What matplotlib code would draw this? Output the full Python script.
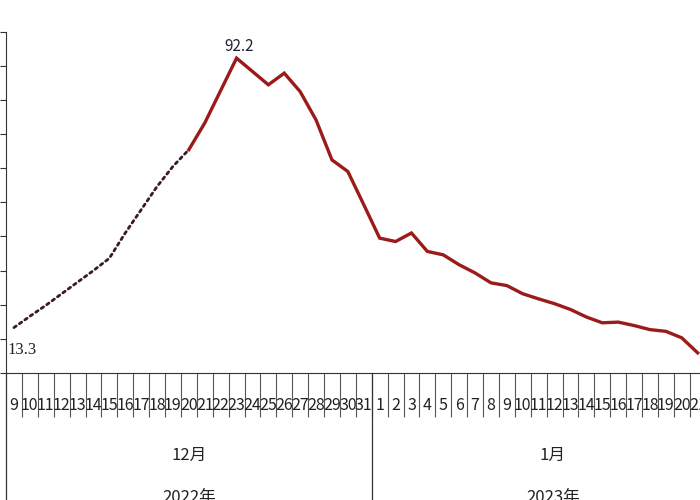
import numpy as np
import matplotlib
matplotlib.use('Agg')
import matplotlib.pyplot as plt
import matplotlib.transforms as mtransforms

plt.rcParams['font.family'] = ['Liberation Sans Narrow', 'Noto Sans CJK SC', 'DejaVu Sans']

# Day labels (Dec 9 .. Dec 31, Jan 1 .. Jan 21)
dec_days = [str(d) for d in range(9, 32)]
jan_days = [str(d) for d in range(1, 22)]
day_labels = dec_days + jan_days

# Values
dec_values = [13.3, 16.6, 19.8, 23.2, 26.6, 30.0, 33.6, 41.0, 47.8, 54.6, 60.5, 65.4,
              73.2, 82.7, 92.2, 88.3, 84.4, 87.8, 82.4, 74.1, 62.4, 59.0, 49.3]
jan_values = [39.5, 38.5, 41.0, 35.6, 34.6, 31.7, 29.3, 26.4, 25.6, 23.2, 21.7, 20.3,
              18.6, 16.4, 14.7, 14.9, 13.9, 12.7, 12.2, 10.3, 5.9]
values = dec_values + jan_values

months = ['12月', '1月']
years = ['2022年', '2023年']
dotted_until = 11  # Dec 20: dotted before, solid after

x = np.arange(len(values))

fig = plt.figure(figsize=(7, 5), dpi=100)
# axes run a little past the right edge, as in the cropped reference
ax = fig.add_axes([6 / 700, 127 / 500, 699.6 / 700, 341.5 / 500])

ax.plot(x[:dotted_until + 1], values[:dotted_until + 1], color='#3a1a2a',
        linestyle=(0, (1, 1.4)), linewidth=2.0, dash_capstyle='round')
ax.plot(x[dotted_until:], values[dotted_until:], color='#9b1b1b', linewidth=2.4,
        solid_joinstyle='miter')

# annotations for start and peak
ax.annotate('13.3', (x[0], values[0]), xytext=(8, -22), textcoords='offset pixels',
            ha='center', va='center', fontsize=12, family='Liberation Serif', color='#222222')
i_max = int(np.argmax(values))
ax.annotate('92.2', (x[i_max], values[i_max]), xytext=(3, 3), textcoords='offset pixels',
            ha='center', va='bottom', fontsize=11, color='#222233')

ax.set_xlim(-0.5, len(values) - 0.5)
ax.set_ylim(0, 100)
ax.spines['top'].set_visible(False)
ax.spines['right'].set_visible(False)
ax.spines['left'].set_color('#333333')
ax.spines['bottom'].set_color('#333333')

# y ticks without labels
ax.set_yticks(np.arange(0, 101, 10))
ax.tick_params(axis='y', direction='out', length=4.5, width=0.8, color='#333333', labelleft=False)

# category boundaries as long ticks, labels between them
ax.set_xticks(np.arange(0.5, len(values) - 0.5, 1))
ax.set_xticklabels([])
ax.set_xticks(x, minor=True)
ax.set_xticklabels(day_labels, minor=True, fontsize=11.5, color='#222222')
ax.tick_params(axis='x', which='major', direction='out', length=31.5, width=0.8, color='#555555')
ax.tick_params(axis='x', which='minor', length=0, pad=17)

# month separators running to the bottom
below = -127 / 341.5
for sep in [-0.5, len(dec_days) - 0.5]:
    ax.axvline(sep, ymin=below, ymax=0, color='#333333', linewidth=0.9, clip_on=False)

trans = mtransforms.blended_transform_factory(ax.transData, ax.transAxes)
month_x = [11.0, 33.9]
for mx, m, yr in zip(month_x, months, years):
    ax.text(mx, -0.24, m, transform=trans, ha='center', va='center', fontsize=12, color='#222222')
    ax.text(mx, -0.365, yr, transform=trans, ha='center', va='center', fontsize=12, color='#222222')

plt.savefig('out.png', dpi=100)
